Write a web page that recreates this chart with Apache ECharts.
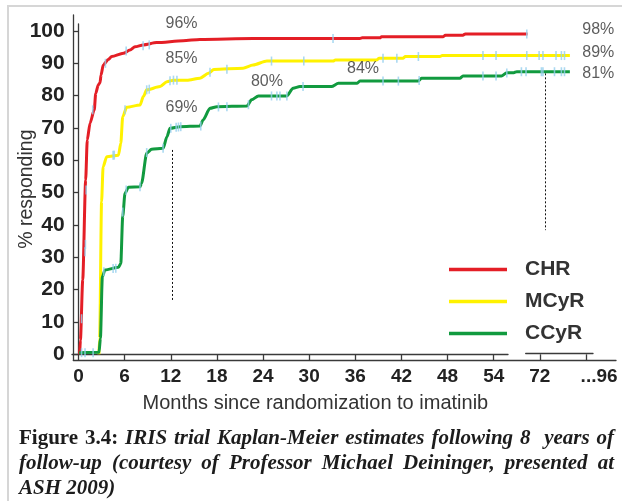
<!DOCTYPE html>
<html>
<head>
<meta charset="utf-8">
<script src="https://cdn.jsdelivr.net/npm/echarts@6/dist/echarts.min.js"></script>
<style>
  html, body { margin: 0; padding: 0; background: #fff; }
  #wrap { position: relative; width: 622px; height: 504px; overflow: hidden; }
  #frame { position: absolute; left: 7px; top: 5px; right: -2px; bottom: 3px;
           border-left: 2px solid #d6d6d6; border-top: 2px solid #d6d6d6; }
  #chart { position: absolute; left: 0; top: 0; width: 622px; height: 504px; }
  #caption { position: absolute; left: 19px; width: 595px; top: 425px;
             font-family: "Liberation Serif", "Times New Roman", serif; font-size: 21px;
             line-height: 25px; color: #1c1c1c; font-weight: bold; font-style: italic; }
  #caption .j { text-align: justify; text-align-last: justify; white-space: nowrap; }
  #caption .fig { font-style: normal; }
</style>
</head>
<body>
<div id="wrap">
  <div id="frame"></div>
  <div id="chart"></div>
  <div id="caption">
    <div class="j"><span class="fig">Figure 3.4:</span> IRIS trial Kaplan-Meier estimates following 8&nbsp; years of</div>
    <div class="j">follow-up (courtesy of Professor Michael Deininger, presented at</div>
    <div>ASH 2009)</div>
  </div>
</div>
<script>
// x is the position on the drawn axis: 0..54 are months, past the break 60 is month 72
var xTickPos = [0, 6, 12, 18, 24, 30, 36, 42, 48, 54, 60, 66];
var xLabelPos = [0, 6, 12, 18, 24, 30, 36, 42, 48, 54, 60, 67.7];
var xLabelText = ['0', '6', '12', '18', '24', '30', '36', '42', '48', '54', '72', '...96'];
var yTicks = [0, 10, 20, 30, 40, 50, 60, 70, 80, 90, 100];

// CHR curve [position, % responding]
var chr = [
  [0.15, 0], [0.25, 4.4], [0.55, 23], [0.93, 53.9], [1.14, 66.3], [1.5, 71.5], [2.05, 75.6],
  [2.24, 80.7], [2.57, 83.3], [2.8, 84], [2.93, 86.4], [3.22, 89.5], [3.88, 91.2], [4.32, 92.1],
  [5.83, 93.1], [6.7, 94.1], [7.35, 95.1], [8.43, 95.7], [10.17, 96.4], [13.6, 97], [15.8, 97.4],
  [22.7, 97.7], [36.6, 97.7], [36.9, 97.9], [39.2, 97.9], [39.4, 98.2], [47.4, 98.2],
  [47.7, 98.7], [50, 98.7], [50.3, 99.1], [58.4, 99.1]
];
// MCyR curve
var mcyr = [
  [2.65, 0], [2.75, 5], [3.0, 47.2], [3.2, 58], [3.67, 61.1], [5.2, 61.6], [5.5, 65.3],
  [5.75, 73.5], [6.27, 76.4], [8.0, 77.1], [8.43, 79.7], [8.87, 81.8], [10.6, 82.8],
  [11.5, 84.3], [12.35, 84.8], [14.1, 84.8], [15.8, 85.4], [16.9, 86.9], [17.6, 88.1],
  [21.4, 88.5], [22.7, 89.5], [24.5, 90.7], [33.1, 90.7], [33.4, 91.0], [38.8, 91.0],
  [39.1, 91.6], [42.2, 91.6], [42.5, 92.1], [47, 92.1], [47.3, 92.4], [63.9, 92.4]
];
// CCyR curve
var ccyr = [
  [0.07, 0.5], [2.67, 0.6], [2.85, 5], [3.1, 24], [3.45, 26.1], [5.2, 26.9], [5.5, 28.1],
  [5.75, 42.6], [6.05, 49.8], [6.5, 51.7], [8.0, 51.8], [8.2, 52.9], [8.87, 62.2], [9.5, 63.4],
  [11.0, 63.7], [11.5, 67.3], [11.9, 69.9], [13.2, 70.4], [15.8, 70.6], [16.2, 72.5],
  [17.1, 76.1], [18, 76.6], [21.9, 76.8], [22.5, 78.7], [23.4, 79.9], [27.1, 79.9],
  [27.9, 82.3], [28.8, 82.8], [32.9, 82.8], [33.8, 83.8], [36.2, 83.8], [36.6, 84.5],
  [44.2, 84.5], [44.6, 85.4], [49.6, 85.4], [50.0, 86.1], [55.0, 86.1], [55.7, 87.1],
  [56.6, 87.1], [57.0, 87.4], [63.9, 87.4]
];

// censored patients (light blue ticks)
var chrCens = [[0.4, 11], [0.85, 31.7], [0.9, 34], [1.0, 50.8], [1.85, 75.6], [3.5, 90],
  [6.2, 93.8], [8.4, 95.4], [9.2, 95.7], [33.1, 97.7], [58.3, 99.1]];
var mcyrCens = [[4.5, 61.6], [4.65, 61.6], [6.05, 75.6], [8.87, 81.8], [9.2, 82], [11.9, 84.6],
  [12.35, 84.8], [12.8, 84.8], [17.1, 87.2], [19.3, 88.2], [25.1, 90.7], [29.3, 90.7],
  [39.6, 91.6], [41.4, 91.6], [44.2, 92.1], [52.6, 92.4], [54.3, 92.4], [58.3, 92.4],
  [59.9, 92.4], [60.4, 92.4], [62.1, 92.4], [62.8, 92.4], [63.2, 92.4]];
var ccyrCens = [[0.4, 0.5], [0.85, 0.5], [1.9, 0.5], [3.3, 25.5], [4.5, 26.5], [4.85, 26.6],
  [5.75, 44], [6.2, 50.8], [8.0, 51.8], [8.87, 62.4], [11.0, 63.7], [12.0, 69.9], [12.7, 70.2],
  [13.0, 70.3], [13.3, 70.4], [15.9, 70.6], [18.2, 76.5], [19.3, 76.6], [22.1, 77.2],
  [25.1, 79.9], [25.8, 79.9], [26.2, 79.9], [27.1, 79.9], [29.2, 82.8], [39.6, 84.5],
  [41.6, 84.5], [44.3, 84.7], [52.6, 86.1], [54.3, 86.1], [55.7, 87], [57.6, 87.4],
  [58.2, 87.4], [60.2, 87.4], [60.4, 87.4], [61.9, 87.4], [62.8, 87.4], [63.2, 87.4]];

// percentage notes [position, value, text]
var pctLabels = [
  [13.4, 102.2, '96%'], [13.4, 91.4, '85%'], [13.4, 76.2, '69%'], [24.5, 84.3, '80%'],
  [37.0, 88.5, '84%'], [67.6, 100.3, '98%'], [67.6, 93.3, '89%'], [67.6, 86.7, '81%']
];
// dotted guide lines [position, from, to]
var guides = [[12.25, 63.2, 16.3], [60.75, 86.9, 38.4]];

var names = ['CHR', 'MCyR', 'CCyR'];
var colors = ['#e41e26', '#fff200', '#119a3f'];
var censColor = '#96d0ee';
var sans = 'Liberation Sans, Arial, sans-serif';

var chart = echarts.init(document.getElementById('chart'));

function lineAxis(grid, min, max) {
  return {
    type: 'value', gridIndex: grid, min: min, max: max,
    axisLine: { show: true, onZero: false, lineStyle: { color: '#3a3a3a', width: 1.3 } },
    axisTick: { show: false }, axisLabel: { show: false }, splitLine: { show: false }
  };
}
function hiddenAxis(grid) {
  return { type: 'value', gridIndex: grid, show: false };
}

function curve(i, data) {
  return {
    name: names[i], type: 'line', data: data, showSymbol: false,
    smooth: 0.25, smoothMonotone: 'x',
    lineStyle: { color: colors[i], width: 3 }, itemStyle: { color: colors[i] },
    z: 3 + i
  };
}
function cens(data) {
  return {
    type: 'scatter', data: data, symbol: 'rect', symbolSize: [1.6, 9],
    itemStyle: { color: censColor }, z: 10, silent: true
  };
}

var series = [curve(0, chr), curve(1, mcyr), curve(2, ccyr),
  cens(chrCens), cens(mcyrCens), cens(ccyrCens)];

// percentage notes live on the outer grid, which reaches higher than the curve grid
series.push({
  type: 'scatter', xAxisIndex: 3, yAxisIndex: 3, symbolSize: 0, silent: true, z: 12,
  data: pctLabels.map(function (p) { return { value: [p[0], p[1]], name: p[2] }; }),
  label: { show: true, position: 'inside', formatter: '{b}', fontFamily: sans, fontSize: 16, color: '#333' }
});
series[2].markLine = {
  symbol: ['none', 'none'], silent: true, label: { show: false },
  lineStyle: { color: '#111', type: [2, 2], width: 1 },
  data: guides.map(function (g) { return [{ coord: [g[0], g[1]] }, { coord: [g[0], g[2]] }]; })
};

function grid(left, top, width, height) {
  return { left: left, top: top, width: width, height: height, containLabel: false, outerBoundsMode: 'none' };
}

var option = {
  animation: false,
  backgroundColor: 'transparent',
  grid: [
    grid(76.7, 24, 539.3, 330.3),
    grid(72, 24, 436, 330.3),
    grid(525.7, 24, 67.3, 329.3),
    grid(73.3, 15, 542.7, 345)
  ],
  legend: {
    data: names, orient: 'vertical', left: 449, top: 259, padding: 0,
    icon: 'rect', itemWidth: 58, itemHeight: 3.5, itemGap: 11,
    textStyle: { fontFamily: sans, fontSize: 21, fontWeight: 'bold', color: '#333', padding: [0, 0, 0, 13] }
  },
  xAxis: [
    {
      type: 'value', gridIndex: 0, min: -0.234, max: 69.9,
      name: 'Months since randomization to imatinib', nameLocation: 'middle', nameGap: 39,
      nameMoveOverlap: false,
      nameTextStyle: { fontFamily: sans, fontSize: 20, color: '#333', padding: [0, 62, 0, 0] },
      axisLine: { show: false },
      axisTick: { show: true, customValues: xTickPos, length: 6, lineStyle: { color: '#3a3a3a', width: 1.3 } },
      axisLabel: {
        customValues: xLabelPos, margin: 13, fontFamily: sans, fontSize: 19, fontWeight: 'bold', color: '#222',
        formatter: function (v) {
          for (var i = 0; i < xLabelPos.length; i++) if (Math.abs(xLabelPos[i] - v) < 0.01) return xLabelText[i];
          return '';
        }
      },
      splitLine: { show: false }
    },
    lineAxis(1), lineAxis(2), lineAxis(3, -0.676, 69.9)
  ],
  yAxis: [
    {
      type: 'value', gridIndex: 0, min: 0, max: 102.16,
      name: '% responding', nameLocation: 'middle', nameGap: 40,
      nameMoveOverlap: false,
      nameTextStyle: { fontFamily: sans, fontSize: 19.5, color: '#333' },
      axisLine: { show: true, lineStyle: { color: '#3a3a3a', width: 1.3 } },
      axisTick: { show: true, customValues: yTicks, length: 5, lineStyle: { color: '#3a3a3a', width: 1.3 } },
      axisLabel: { customValues: yTicks, margin: 12, fontFamily: sans, fontSize: 21, fontWeight: 'bold', color: '#222' },
      splitLine: { show: false }
    },
    hiddenAxis(1), hiddenAxis(2), lineAxis(3, -1.763, 104.95)
  ],
  series: series
};
chart.setOption(option);
</script>
</body>
</html>
